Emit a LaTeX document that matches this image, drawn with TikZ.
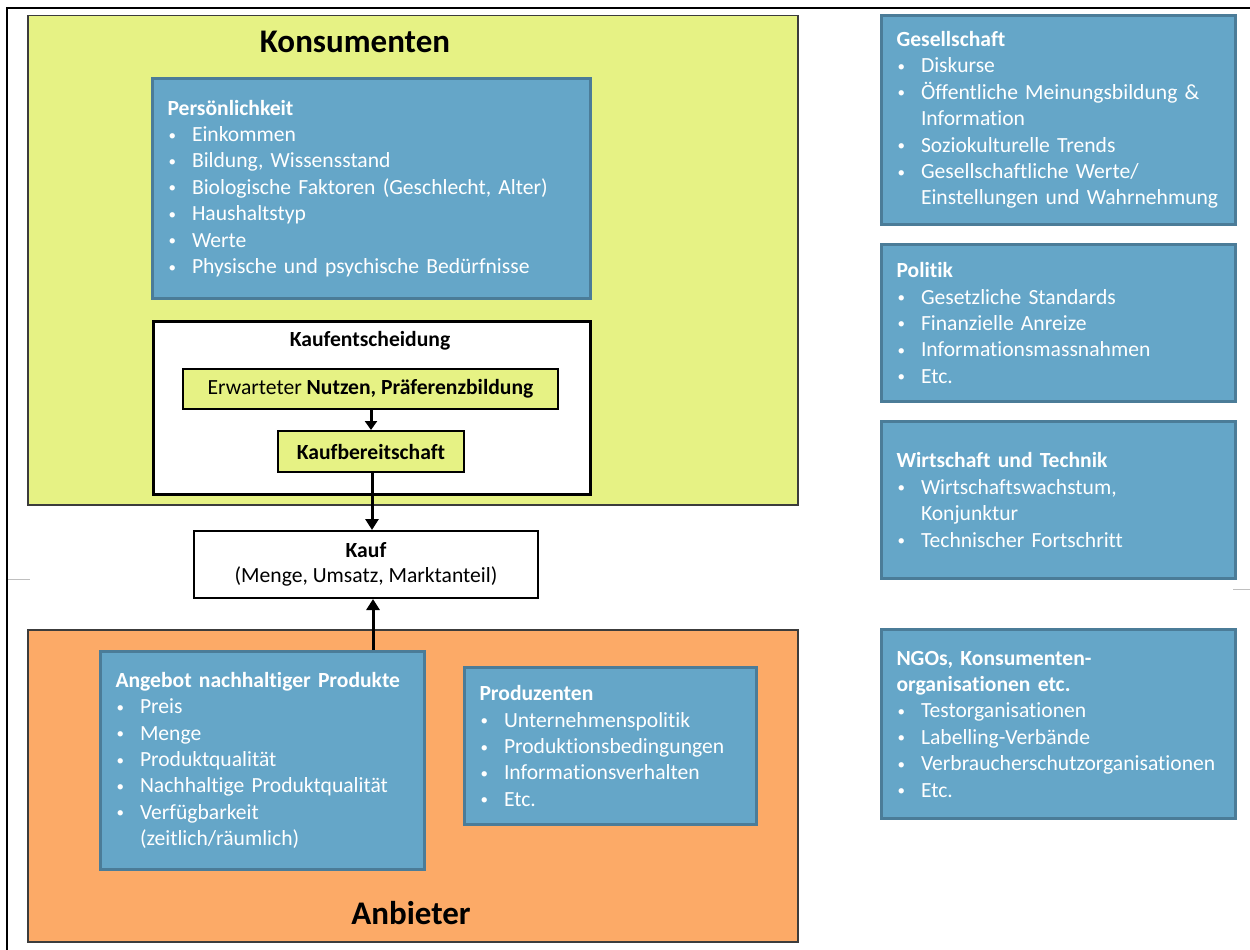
\documentclass[tikz,border=0pt]{standalone}
\usepackage{fontspec}
\setmainfont{Carlito}[Ligatures=CommonOff]
\usetikzlibrary{arrows.meta}
\definecolor{kyellow}{RGB}{230,242,132}
\definecolor{korange}{RGB}{252,170,103}
\definecolor{bfill}{RGB}{101,166,200}
\definecolor{bborder}{RGB}{75,124,152}
\definecolor{gborder}{RGB}{60,60,60}
\newcommand\kbul{\makebox[24.5pt][l]{\hspace{1pt}\raisebox{1.5pt}{\fontsize{15}{15}\selectfont\textbullet}}}
\newcommand\kind{\hspace*{24.5pt}}
\begin{document}
\begin{tikzpicture}[x=1pt,y=-1pt,
  every node/.style={inner sep=0pt},
  bodyfont/.style={font=\fontsize{21.6}{26.4}\selectfont},
  bigtitle/.style={font=\fontsize{33}{36}\selectfont\bfseries},
  areabox/.style={draw=gborder, line width=1.5pt, anchor=north west},
  bluebox/.style={draw=bborder, line width=3pt, fill=bfill, text=white, anchor=north west,
    align=left, inner xsep=15pt, bodyfont},
  ybox/.style={draw=black, line width=2pt, fill=kyellow, bodyfont},
  arr/.style={draw=black, line width=3pt, -{Triangle[width=12pt,length=9pt]}},
  bigarr/.style={draw=black, line width=3pt, -{Triangle[width=13pt,length=11pt]}}
]
\useasboundingbox (0,0) rectangle (1250,950);
% outer frame (cut off at right and bottom)
\draw[line width=2pt] (1250,8) -- (7,8) -- (7,950);
% faint artefact lines
\draw[black!25, line width=1pt] (8,579.5) -- (30,579.5);
\draw[black!25, line width=1pt] (1233,589.5) -- (1250,589.5);

% Konsumenten area
\node[areabox, fill=kyellow, minimum width=770pt, minimum height=489pt] (kons) at (27,15) {};
\node[bigtitle] (konstitle) at (355,42) {Konsumenten};

\node[bluebox, minimum width=438pt, minimum height=220pt, text width=408pt] (pers) at (151,77)
 {\textbf{Persönlichkeit}\\
  \kbul Einkommen\\
  \kbul Bildung, Wissensstand\\
  \kbul Biologische Faktoren (Geschlecht, Alter)\\
  \kbul Haushaltstyp\\
  \kbul Werte\\
  \kbul Physische und psychische Bedürfnisse};

\node[draw=black, line width=3.2pt, fill=white, anchor=north west, minimum width=437pt, minimum height=173pt] (kent) at (152,320) {};
\node[bodyfont, font=\fontsize{21.6}{26.4}\selectfont\bfseries] (kenttitle) at (370,341) {Kaufentscheidung};
\node[ybox, minimum width=375pt, minimum height=40pt] (nutzen) at (370.5,389) {Erwarteter \textbf{Nutzen, Präferenzbildung}};
\node[ybox, minimum width=186pt, minimum height=41pt] (kb) at (371,451.5) {\textbf{Kaufbereitschaft}};

% Kauf
\node[draw=black, line width=2pt, fill=white, minimum width=344pt, minimum height=67pt, align=center,
  font=\fontsize{21.6}{25}\selectfont] (kauf) at (366,564.5) {\textbf{Kauf}\\(Menge, Umsatz, Marktanteil)};

% Anbieter area
\node[areabox, fill=korange, minimum width=770pt, minimum height=312pt] (anb) at (27,629) {};
\node[bigtitle] (anbtitle) at (411,913) {Anbieter};

\node[bluebox, minimum width=324pt, minimum height=218pt, text width=294pt] (angebot) at (99,650)
 {\textbf{Angebot nachhaltiger Produkte}\\
  \kbul Preis\\
  \kbul Menge\\
  \kbul Produktqualität\\
  \kbul Nachhaltige Produktqualität\\
  \kbul Verfügbarkeit\\
  \kind (zeitlich/räumlich)};

\node[bluebox, minimum width=292pt, minimum height=157pt, text width=262pt] (prod) at (463,666)
 {\textbf{Produzenten}\\
  \kbul Unternehmenspolitik\\
  \kbul Produktionsbedingungen\\
  \kbul Informationsverhalten\\
  \kbul Etc.};

% right column
\node[bluebox, minimum width=354pt, minimum height=209pt, text width=324pt] (ges) at (880,14)
 {\textbf{Gesellschaft}\\
  \kbul Diskurse\\
  \kbul Öffentliche Meinungsbildung \&\\
  \kind Information\\
  \kbul Soziokulturelle Trends\\
  \kbul Gesellschaftliche Werte/\\
  \kind Einstellungen und Wahrnehmung};

\node[bluebox, minimum width=354pt, minimum height=157pt, text width=324pt] (pol) at (880,243)
 {\textbf{Politik}\\
  \kbul Gesetzliche Standards\\
  \kbul Finanzielle Anreize\\
  \kbul Informationsmassnahmen\\
  \kbul Etc.};

\node[bluebox, minimum width=354pt, minimum height=157pt, text width=324pt] (wirt) at (880,420)
 {\textbf{Wirtschaft und Technik}\\
  \kbul Wirtschaftswachstum,\\
  \kind Konjunktur\\
  \kbul Technischer Fortschritt};

\node[bluebox, minimum width=354pt, minimum height=189pt, text width=324pt] (ngo) at (880,628)
 {\textbf{NGOs, Konsumenten-}\\
  \textbf{organisationen etc.}\\
  \kbul Testorganisationen\\
  \kbul Labelling-Verbände\\
  \kbul Verbraucherschutzorganisationen\\
  \kbul Etc.};

% connectors
\draw[arr] (kb.north |- nutzen.south) -- (kb.north);
\draw[bigarr] ([xshift=1pt]kb.south) -- ([xshift=1pt]kb.south |- kauf.north);
\draw[bigarr] ([xshift=2pt]kb.south |- angebot.north) -- ([xshift=2pt]kb.south |- kauf.south);
\end{tikzpicture}
\end{document}
